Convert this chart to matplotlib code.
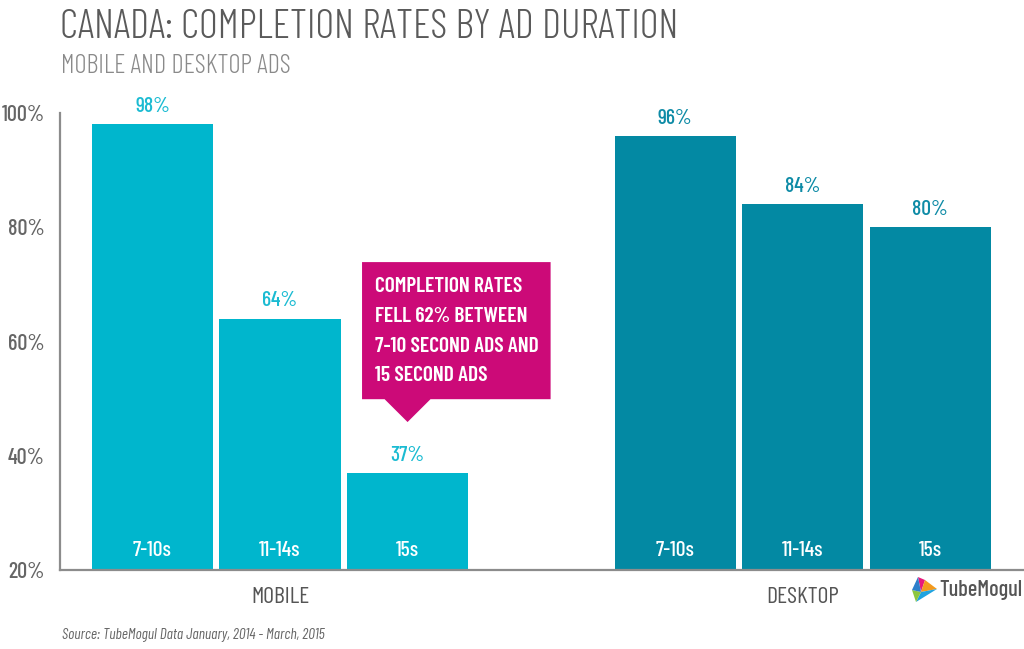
import matplotlib
matplotlib.use("Agg")
import matplotlib.pyplot as plt
from matplotlib.patches import Polygon
from matplotlib.ticker import FuncFormatter

# ---- data ----
groups = ["MOBILE", "DESKTOP"]
durations = ["7-10s", "11-14s", "15s"]
mobile_rates = [98, 64, 37]
desktop_rates = [96, 84, 80]
y_ticks = [20, 40, 60, 80, 100]
title = "CANADA: COMPLETION RATES BY AD DURATION"
subtitle = "MOBILE AND DESKTOP ADS"
callout = "COMPLETION RATES\nFELL 62% BETWEEN\n7-10 SECOND ADS AND\n15 SECOND ADS"
source = "Source: TubeMogul Data January, 2014 - March, 2015"

FONT = ["Barlow Condensed", "DejaVu Sans"]
C_MOB = "#00B6CD"
C_DESK = "#0389A3"
C_MAG = "#CC0A78"
GRAY = "#666666"

W, H = 1024, 649
fig = plt.figure(figsize=(W / 100, H / 100), dpi=100)
ax = fig.add_axes([60 / W, (H - 570) / H, 1 - 60 / W, (570 - 113) / H])


def px(x, y):
    return x / W, 1 - y / H


mob_x = [0, 1, 2]
desk_x = [4.1, 5.1, 6.1]
bw = 0.95

ax.bar(mob_x, mobile_rates, width=bw, bottom=0, color=C_MOB, zorder=2)
ax.bar(desk_x, desktop_rates, width=bw, bottom=0, color=C_DESK, zorder=2)

ax.set_xlim(-0.726, 6.835)
ax.set_ylim(20, 100)

for xs, vals, col in [(mob_x, mobile_rates, "#1BBBD2"), (desk_x, desktop_rates, "#0E8BA6")]:
    for x, v, d in zip(xs, vals, durations):
        ax.annotate(f"{v}%", (x, v), xytext=(0, 6), textcoords="offset points",
                    ha="center", va="bottom", fontsize=15.5, fontweight=500,
                    color=col, family=FONT, annotation_clip=False)
        ax.annotate(d, (x, 20), xytext=(0, 14), textcoords="offset points",
                    ha="center", va="center", fontsize=15.5, fontweight=500,
                    color="white", family=FONT)

# group labels
for xs, g in [(mob_x, groups[0]), (desk_x, groups[1])]:
    ax.annotate(g, (xs[1], 20), xytext=(0, -20), textcoords="offset points",
                ha="center", va="center", fontsize=17, fontweight=400,
                color="#555555", family=FONT, annotation_clip=False)

# axes styling
for s in ["top", "right"]:
    ax.spines[s].set_visible(False)
for s in ["left", "bottom"]:
    ax.spines[s].set_color("#8c8c8c")
    ax.spines[s].set_linewidth(1.6)
ax.set_xticks([])
ax.set_yticks(y_ticks)
ax.yaxis.set_major_formatter(FuncFormatter(lambda v, p: f"{int(v)}%"))
ax.tick_params(axis="y", length=0, pad=11, labelsize=16, labelcolor=GRAY)
for lbl in ax.get_yticklabels():
    lbl.set_family(FONT)
    lbl.set_fontweight(500)

# callout box (data coords over the mobile 15s bar)
box_l, box_r, box_t, box_b = 1.643, 3.122, 73.9, 49.9
tip_x, tip_y = 2.0, 45.9
poly = Polygon([(box_l, box_t), (box_r, box_t), (box_r, box_b), (2.18, box_b),
                (tip_x, tip_y), (1.82, box_b), (box_l, box_b)],
               closed=True, facecolor=C_MAG, edgecolor="none", zorder=3, clip_on=False)
ax.add_patch(poly)
ax.text(box_l + 0.1, (box_t + box_b) / 2 - 0.1, callout, ha="left", va="center",
        fontsize=15.5, fontweight=600, color="white", family=FONT,
        linespacing=1.72, zorder=4)

# titles
fig.text(*px(60, 28), title, ha="left", va="center", fontsize=29.5, fontweight=300,
         color="#5a5a5a", family=FONT)
fig.text(*px(61, 66), subtitle, ha="left", va="center", fontsize=19, fontweight=300,
         color="#8a8a8a", family=FONT)
fig.text(*px(62, 635), source, ha="left", va="center", fontsize=11, style="italic",
         fontweight=400, color="#666666", family=FONT)

# TubeMogul logo mark
logo = [
    ([(918, 577), (925, 580), (921, 592)], "#E8197C"),
    ([(925, 580), (937, 589), (921, 592)], "#F39A1E"),
    ([(921, 592), (937, 589), (916, 602)], "#1FA3E0"),
    ([(912, 590), (921, 592), (916, 602)], "#8DC63F"),
    ([(912, 590), (918, 577), (921, 592)], "#2E7FCB"),
]
for pts, col in logo:
    fig.patches.append(Polygon([px(x, y) for x, y in pts], closed=True,
                               transform=fig.transFigure, facecolor=col,
                               edgecolor="none"))
fig.text(*px(939, 590), "TubeMogul", ha="left", va="center", fontsize=16,
         fontweight=500, color="#555555", family=FONT)

fig.savefig("out.png", dpi=100)
